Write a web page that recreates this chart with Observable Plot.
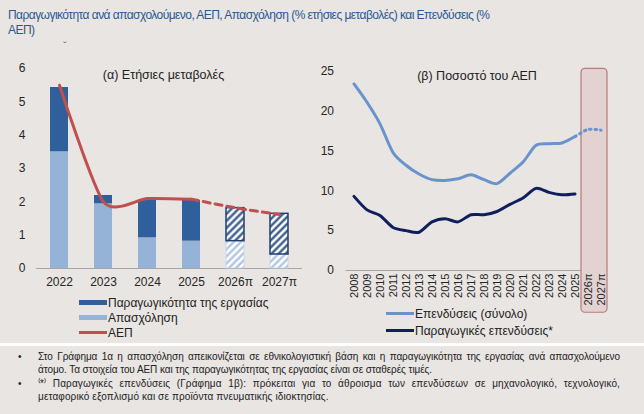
<!DOCTYPE html>
<html>
<head>
<meta charset="utf-8">
<script src="https://cdn.jsdelivr.net/npm/d3@7"></script>
<script src="https://cdn.jsdelivr.net/npm/@observablehq/plot@0.6"></script>
<style>
  html, body { margin: 0; padding: 0; }
  body { width: 644px; height: 414px; position: relative; background: #ffffff; overflow: hidden;
         font-family: "Liberation Sans", Arial, sans-serif; }
  #top { position: absolute; left: 0; top: 0; width: 644px; height: 343px; background: #e8e5e2; }
  #notes { position: absolute; left: 0; top: 346px; width: 644px; height: 68px; background: #e8e5e2; }
  .title { position: absolute; left: 8px; top: 8px; width: 496px; font-size: 12px; line-height: 15px;
           letter-spacing: -0.55px; color: #2a5896; }
  .caret { position: absolute; left: 63px; top: 40px; font-size: 11px; color: #666; }
  .chart { position: absolute; }
  .legend { position: absolute; font-size: 12px; color: #222; }
  .legend .row { display: flex; align-items: center; height: 15px; white-space: nowrap; }
  .legend .sw { display: inline-block; width: 28px; margin-right: 1px; }
  .notes { position: absolute; left: 14px; top: 4px; width: 606px; margin: 0; padding: 0; list-style: none;
           font-size: 10px; line-height: 13.4px; letter-spacing: -0.08px; color: #222; }
  .notes li { position: relative; padding-left: 24px; text-align: justify; }
  .notes li.wide { letter-spacing: 0.12px; }
  .notes li::before { content: "•"; position: absolute; left: 4px; top: 0; letter-spacing: 0; }
</style>
</head>
<body>
<div id="top">
  <div class="title">Παραγωγικότητα ανά απασχολούμενο, ΑΕΠ, Απασχόληση (% ετήσιες μεταβολές) και Επενδύσεις (% ΑΕΠ)</div>
  <div class="caret">ˇ</div>
  <div id="left" class="chart" style="left:0px;top:55px;"></div>
  <div id="right" class="chart" style="left:310px;top:55px;"></div>
  <div class="legend" style="left:79px;top:295px;">
    <div class="row"><span class="sw" style="height:5px;background:#30609c"></span>Παραγωγικότητα της εργασίας</div>
    <div class="row"><span class="sw" style="height:5px;background:#95b3d7"></span>Απασχόληση</div>
    <div class="row"><span class="sw" style="height:3px;background:#c0504d"></span>ΑΕΠ</div>
  </div>
  <div class="legend" style="left:386px;top:305px;">
    <div class="row" style="height:17px"><span class="sw" style="height:3px;background:#6a93cd"></span>Επενδύσεις (σύνολο)</div>
    <div class="row" style="height:17px"><span class="sw" style="height:3px;background:#0f1f5e"></span>Παραγωγικές επενδύσεις*</div>
  </div>
</div>
<div id="notes">
  <ul class="notes">
    <li>Στο Γράφημα 1α η απασχόληση απεικονίζεται σε εθνικολογιστική βάση και η παραγωγικότητα της εργασίας ανά απασχολούμενο άτομο. Τα στοιχεία του ΑΕΠ και της παραγωγικότητας της εργασίας είναι σε σταθερές τιμές.</li>
    <li class="wide">⁽*⁾ Παραγωγικές επενδύσεις (Γράφημα 1β): πρόκειται για το άθροισμα των επενδύσεων σε μηχανολογικό, τεχνολογικό, μεταφορικό εξοπλισμό και σε προϊόντα πνευματικής ιδιοκτησίας.</li>
  </ul>
</div>
<script>
// (α) Annual changes, %
const years = ["2022", "2023", "2024", "2025", "2026π", "2027π"];
const employment = [3.5, 1.94, 0.92, 0.82, 0.82, 0.42];
const productivity = [1.93, 0.25, 1.12, 1.22, 0.99, 1.22];
const gdp = [5.5, 2.0, 2.1, 2.08, 1.82, 1.62];
const firstForecast = 4; // index of the first projected year

// (β) Investment, % of GDP
const invYears = ["2008", "2009", "2010", "2011", "2012", "2013", "2014", "2015", "2016", "2017",
                  "2018", "2019", "2020", "2021", "2022", "2023", "2024", "2025", "2026π", "2027π"];
const totalInvestment = [23.4, 21.1, 18.4, 14.8, 13.2, 12.1, 11.4, 11.3, 11.5, 12.0,
                         11.4, 10.9, 12.2, 13.6, 15.7, 15.9, 16.0, 16.8, 17.7, 17.6];
const productiveInvestment = [9.3, 7.6, 6.9, 5.4, 5.0, 4.8, 6.1, 6.5, 6.1, 7.0,
                              7.0, 7.4, 8.3, 9.1, 10.3, 9.8, 9.5, 9.6];
const lastActual = 17; // 2025
const forecastYears = ["2026π", "2027π"];

const font = "'Liberation Sans', Arial, sans-serif";
const DARK = "#30609c", LIGHT = "#95b3d7", RED = "#c0504d";
const INV = "#6a93cd", NAVY = "#0f1f5e";

// ---------- chart (α) ----------
const rows = years.map((year, i) => ({
  year, emp: employment[i], total: employment[i] + productivity[i], gdp: gdp[i], proj: i >= firstForecast
}));
const actual = rows.filter(d => !d.proj);
const proj = rows.filter(d => d.proj);

const left = Plot.plot({
  width: 315, height: 240,
  marginLeft: 36, marginRight: 13, marginTop: 13, marginBottom: 27,
  style: {fontFamily: font, fontSize: "12px", color: "#262626", background: "transparent", overflow: "visible"},
  x: {type: "band", domain: years, paddingInner: 0.59, paddingOuter: 0.295, label: null},
  y: {domain: [0, 6], label: null},
  marks: [
    Plot.axisY({ticks: [0, 1, 2, 3, 4, 5, 6], tickSize: 0, tickPadding: 11, tickFormat: d => d, fontSize: 12}),
    Plot.axisX({tickSize: 0, tickPadding: 9, fontSize: 12}),
    Plot.ruleY([0], {stroke: "#a6a6a6", strokeWidth: 1}),
    Plot.barY(actual, {x: "year", y1: 0, y2: "emp", fill: LIGHT, inset: 0}),
    Plot.barY(actual, {x: "year", y1: "emp", y2: "total", fill: DARK, inset: 0}),
    Plot.barY(proj, {x: "year", y1: 0, y2: "emp", fill: "url(#hatchLight)", stroke: "#c6d5e8", strokeWidth: 0.8, inset: 0}),
    Plot.barY(proj, {x: "year", y1: "emp", y2: "total", fill: "url(#hatchDark)", stroke: "#1f3f6e", strokeWidth: 1.5, inset: 0}),
    Plot.line(rows.slice(0, firstForecast + 1), {x: "year", y: "gdp", stroke: RED, strokeWidth: 3, curve: "cardinal", tension: 0.3,
      filter: (d, i) => i < firstForecast}),
    Plot.line(rows.slice(firstForecast - 1), {x: "year", y: "gdp", stroke: RED, strokeWidth: 3, strokeDasharray: "7,5", curve: "cardinal", tension: 0.3}),
    Plot.text(["(α) Ετήσιες μεταβολές"], {frameAnchor: "top", dx: -6, dy: 2, lineAnchor: "top", fontSize: 12.5, fill: "#222"})
  ]
});

// diagonal hatch patterns for the projected bars
function addHatch(svg, id, color) {
  const ns = "http://www.w3.org/2000/svg";
  let defs = svg.querySelector("defs");
  if (!defs) { defs = document.createElementNS(ns, "defs"); svg.insertBefore(defs, svg.firstChild); }
  const p = document.createElementNS(ns, "pattern");
  p.setAttribute("id", id);
  p.setAttribute("patternUnits", "userSpaceOnUse");
  p.setAttribute("width", 5);
  p.setAttribute("height", 5);
  p.setAttribute("patternTransform", "rotate(45)");
  const bg = document.createElementNS(ns, "rect");
  bg.setAttribute("width", 5); bg.setAttribute("height", 5); bg.setAttribute("fill", "#ffffff");
  const ln = document.createElementNS(ns, "line");
  ln.setAttribute("x1", 2.5); ln.setAttribute("y1", 0); ln.setAttribute("x2", 2.5); ln.setAttribute("y2", 5);
  ln.setAttribute("stroke", color); ln.setAttribute("stroke-width", 2.2);
  p.appendChild(bg); p.appendChild(ln);
  defs.appendChild(p);
}
addHatch(left, "hatchDark", "#2a4f82");
addHatch(left, "hatchLight", "#a8c0df");
document.getElementById("left").appendChild(left);

// ---------- chart (β) ----------
const inv = invYears.map((year, i) => ({year, total: totalInvestment[i], prod: productiveInvestment[i]}));

const right = Plot.plot({
  width: 334, height: 262,
  marginLeft: 35.5, marginRight: 36.5, marginTop: 15.7, marginBottom: 47,
  style: {fontFamily: font, fontSize: "12px", color: "#262626", background: "transparent", overflow: "visible"},
  x: {type: "band", domain: invYears, padding: 0, label: null},
  y: {domain: [0, 25], label: null},
  marks: [
    Plot.ruleY([0], {stroke: "#a6a6a6", strokeWidth: 1}),
    // shaded projection window spanning the two forecast years
    Plot.rect([0], {
      x1: () => forecastYears[0], x2: () => forecastYears[1], y1: -5.3, y2: 25.3,
      fill: "#e2d3d2", stroke: "#b97a7a", strokeWidth: 1.2, rx: 4
    }),
    Plot.axisY({ticks: [0, 5, 10, 15, 20, 25], tickSize: 0, tickPadding: 12, tickFormat: d => d, fontSize: 12}),
    Plot.axisX({tickSize: 0, tickPadding: 3, tickRotate: -90, fontSize: 11}),
    Plot.line(inv.slice(0, lastActual + 1), {x: "year", y: "total", stroke: INV, strokeWidth: 3, curve: "cardinal", tension: 0.2}),
    Plot.line(inv.slice(lastActual), {x: "year", y: "total", stroke: INV, strokeWidth: 3, strokeDasharray: "1.5,4", strokeLinecap: "round", curve: "cardinal", tension: 0.2}),
    Plot.line(inv.filter(d => d.prod != null), {x: "year", y: "prod", stroke: NAVY, strokeWidth: 3, curve: "cardinal", tension: 0.2}),
    Plot.text(["(β) Ποσοστό του ΑΕΠ"], {frameAnchor: "top", dy: 0, lineAnchor: "top", fontSize: 12.5, fill: "#222"})
  ]
});
document.getElementById("right").appendChild(right);
</script>
</body>
</html>
